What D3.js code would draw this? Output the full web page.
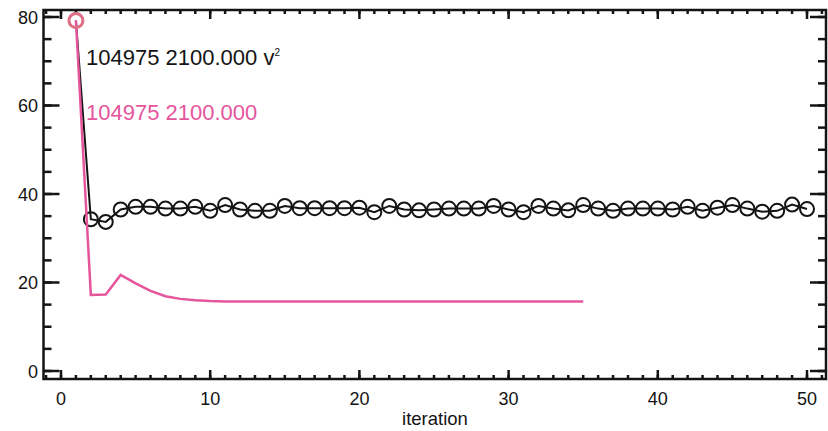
<!DOCTYPE html>
<html>
<head>
<meta charset="utf-8">
<script src="https://cdn.jsdelivr.net/npm/d3@7"></script>
<style>
  body { margin: 0; background: #fff; }
  text { font-family: "Liberation Sans", Arial, Helvetica, sans-serif; }
</style>
</head>
<body>
<script>
// iterations and the two series
var iterBlack = d3.range(1, 51),
  blackVals = [79.2, 34.3, 33.7, 36.5, 37.1, 37.1, 36.7, 36.7, 37.1, 36.2,
    37.5, 36.5, 36.2, 36.2, 37.3, 36.8, 36.8, 36.8, 36.8, 36.9,
    35.9, 37.3, 36.5, 36.3, 36.5, 36.7, 36.7, 36.7, 37.3, 36.5,
    35.9, 37.3, 36.7, 36.3, 37.5, 36.7, 36.2, 36.7, 36.7, 36.7,
    36.5, 37.1, 36.2, 36.9, 37.5, 36.7, 36.0, 36.2, 37.6, 36.6],
  iterPink = d3.range(1, 36),
  pinkVals = [79.2, 17.2, 17.3, 21.7, 19.8, 18.1, 16.9, 16.3, 16.0, 15.8,
    15.7, 15.7, 15.7, 15.7, 15.7, 15.7, 15.7, 15.7, 15.7, 15.7,
    15.7, 15.7, 15.7, 15.7, 15.7, 15.7, 15.7, 15.7, 15.7, 15.7,
    15.7, 15.7, 15.7, 15.7, 15.7],
  xMajor = [0, 10, 20, 30, 40, 50],
  xMinor = d3.range(-1, 52),
  yMajor = [0, 20, 40, 60, 80],
  yMinor = d3.range(0, 81, 5),
  labelBlack = "104975 2100.000 ",
  labelPink = "104975 2100.000";

var width = 828, height = 431,
  frame = {left: 43.5, right: 826, top: 10, bottom: 379},
  black = "#141414", pink = "#e5559c";

var svg = d3.select("body").append("svg")
  .attr("width", width)
  .attr("height", height);

var x = d3.scaleLinear().domain([0, 50]).range([61, 807]),
  y = d3.scaleLinear().domain([0, 80]).range([371, 17]);

//axes: IDL style box, ticks on all four sides pointing in
function axisBits(scale, vals, len, side) {
  var g = svg.append("g").attr("stroke", black);
  vals.forEach(function (v) {
    var p = scale(v);
    if (side == "bottom") g.append("line").attr("x1", p).attr("x2", p).attr("y1", frame.bottom).attr("y2", frame.bottom - len);
    if (side == "top") g.append("line").attr("x1", p).attr("x2", p).attr("y1", frame.top).attr("y2", frame.top + len);
    if (side == "left") g.append("line").attr("y1", p).attr("y2", p).attr("x1", frame.left).attr("x2", frame.left + len);
    if (side == "right") g.append("line").attr("y1", p).attr("y2", p).attr("x1", frame.right).attr("x2", frame.right - len);
  });
  g.selectAll("line").attr("stroke-width", 2.5);
}
var xMinorIn = xMinor.filter(function (v) { return x(v) > frame.left + 1 && x(v) < frame.right - 1; });
axisBits(x, xMinorIn, 4, "bottom");
axisBits(x, xMinorIn, 4, "top");
axisBits(x, xMajor, 9, "bottom");
axisBits(x, xMajor, 9, "top");
axisBits(y, yMinor, 8, "left");
axisBits(y, yMinor, 8, "right");
axisBits(y, yMajor, 16, "left");
axisBits(y, yMajor, 16, "right");

svg.append("rect")
  .attr("x", frame.left).attr("y", frame.top)
  .attr("width", frame.right - frame.left)
  .attr("height", frame.bottom - frame.top)
  .attr("fill", "none")
  .attr("stroke", black)
  .attr("stroke-width", 2.5);

svg.append("g").selectAll("text")
  .data(xMajor).enter().append("text")
  .attr("x", function (d) { return x(d); })
  .attr("y", 405)
  .attr("text-anchor", "middle")
  .attr("font-size", 18)
  .attr("fill", black)
  .text(function (d) { return d; });

svg.append("g").selectAll("text")
  .data(yMajor).enter().append("text")
  .attr("x", 38)
  .attr("y", function (d) { return y(d) + 6.5; })
  .attr("text-anchor", "end")
  .attr("font-size", 18)
  .attr("fill", black)
  .text(function (d) { return d; });

svg.append("text")
  .attr("x", 435).attr("y", 425)
  .attr("text-anchor", "middle")
  .attr("font-size", 18.5)
  .attr("fill", black)
  .text("iteration");

//series
var blackPts = iterBlack.map(function (d, i) { return [d, blackVals[i]]; }),
  pinkPts = iterPink.map(function (d, i) { return [d, pinkVals[i]]; }),
  line = d3.line().x(function (d) { return x(d[0]); }).y(function (d) { return y(d[1]); });

svg.append("path")
  .attr("d", line(blackPts))
  .attr("fill", "none")
  .attr("stroke", black)
  .attr("stroke-width", 2);

svg.append("g").selectAll("circle")
  .data(blackPts).enter().append("circle")
  .attr("cx", function (d) { return x(d[0]); })
  .attr("cy", function (d) { return y(d[1]); })
  .attr("r", 7)
  .attr("fill", "none")
  .attr("stroke", black)
  .attr("stroke-width", 2);

svg.append("path")
  .attr("d", line(pinkPts))
  .attr("fill", "none")
  .attr("stroke", pink)
  .attr("stroke-width", 2.5);

//first point shows up reddish-pink in the picture, cover the black ring
svg.append("circle")
  .attr("cx", x(pinkPts[0][0]))
  .attr("cy", y(pinkPts[0][1]))
  .attr("r", 7)
  .attr("fill", "none")
  .attr("stroke", "#e07088")
  .attr("stroke-width", 3);

//labels
var t1 = svg.append("text")
  .attr("x", 86).attr("y", 65)
  .attr("font-size", 22)
  .attr("fill", black)
  .text(labelBlack);
t1.append("tspan").text("v");
t1.append("tspan").attr("font-size", 10).attr("dy", -9).text("2");

svg.append("text")
  .attr("x", 86).attr("y", 120)
  .attr("font-size", 22)
  .attr("fill", pink)
  .text(labelPink);
</script>
</body>
</html>
